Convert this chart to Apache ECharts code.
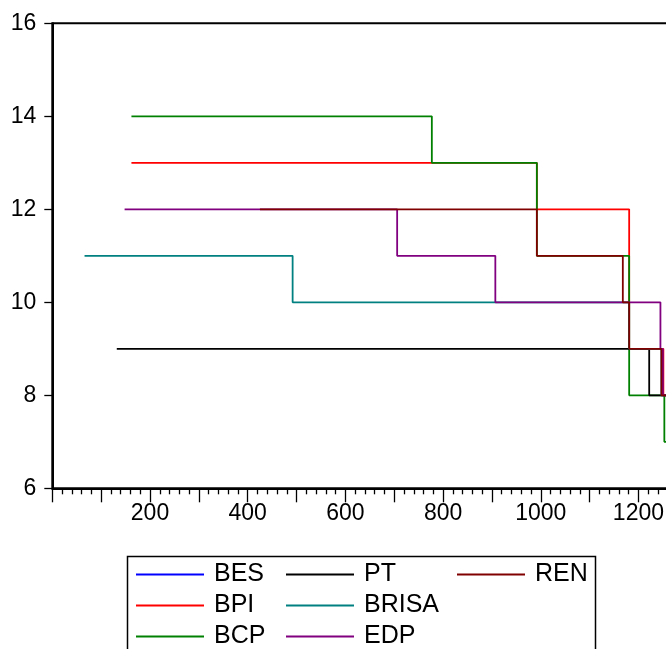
<!DOCTYPE html>
<html>
<head>
<meta charset="utf-8">
<script src="https://cdn.jsdelivr.net/npm/echarts@6/dist/echarts.min.js"></script>
<style>
  html, body { margin: 0; padding: 0; background: #fff; }
  #chart { width: 666px; height: 649px; }
</style>
</head>
<body>
<div id="chart"></div>
<script>
// step points: x where the level starts, y the level
const besX = []
const besY = []
const bpiX = [162, 992, 1181, 1251, 1300]
const bpiY = [13, 12, 9, 8, 8]
const bcpX = [162, 777, 992, 1181, 1253, 1300]
const bcpY = [14, 13, 11, 8, 7, 7]
const ptX = [132, 1222, 1300]
const ptY = [9, 8, 8]
const brisaX = [66, 492, 1181, 1247, 1300]
const brisaY = [11, 10, 9, 8, 8]
const edpX = [148, 706, 907, 1245, 1250, 1300]
const edpY = [12, 11, 10, 9, 8, 8]
const renX = [425, 992, 1168, 1181, 1247, 1300]
const renY = [12, 11, 10, 9, 8, 8]

const names = ['BES', 'BPI', 'BCP', 'PT', 'BRISA', 'EDP', 'REN']
const colors = ['#0000FF', '#FF0000', '#008000', '#000000', '#008080', '#800080', '#800000']
const xs = [besX, bpiX, bcpX, ptX, brisaX, edpX, renX]
const ys = [besY, bpiY, bcpY, ptY, brisaY, edpY, renY]

const xTicks = [200, 400, 600, 800, 1000, 1200]

const chart = echarts.init(document.getElementById('chart'))
const font = 'Liberation Sans, Arial, sans-serif'

// 图例：三列
function legendCol (data, left) {
  return {
    data: data,
    orient: 'vertical',
    left: left,
    top: 559,
    height: 120,
    padding: 0,
    itemGap: 0,
    itemWidth: 68,
    itemHeight: 2,
    icon: 'rect',
    selectedMode: false,
    textStyle: {
      fontFamily: font,
      fontSize: 25,
      color: '#000',
      lineHeight: 31,
      padding: [0, 0, 0, 5]
    }
  }
}

const option = {
  animation: false,
  backgroundColor: '#fff',
  grid: {
    left: 52.3,
    top: 23.3,
    bottom: 160.7,
    width: 635,
    outerBoundsMode: 'none',
    show: true,
    borderColor: '#000',
    borderWidth: 2
  },
  xAxis: {
    type: 'value',
    min: 0,
    max: 1300,
    interval: 100,
    splitLine: { show: false },
    axisLine: { show: true, lineStyle: { color: '#000', width: 2 } },
    axisTick: { show: true, length: 14, lineStyle: { color: '#000', width: 1.3 } },
    minorTick: { show: true, splitNumber: 5, length: 6, lineStyle: { color: '#000', width: 1.3 } },
    axisLabel: {
      margin: 14,
      fontFamily: font,
      fontSize: 23,
      color: '#000',
      formatter: v => xTicks.includes(v) ? String(v) : ''
    }
  },
  yAxis: {
    type: 'value',
    min: 6,
    max: 16,
    interval: 2,
    splitLine: { show: false },
    axisLine: { show: true, lineStyle: { color: '#000', width: 2 } },
    axisTick: { show: true, length: 8, lineStyle: { color: '#000', width: 1.3 } },
    axisLabel: {
      margin: 16,
      fontFamily: font,
      fontSize: 23,
      color: '#000',
      padding: [0, 0, 9, 0]
    }
  },
  legend: [
    legendCol(['BES', 'BPI', 'BCP'], 136),
    legendCol(['PT', 'BRISA', 'EDP'], 286),
    legendCol(['REN'], 457)
  ],
  graphic: [{
    type: 'rect',
    left: 125,
    top: 554,
    shape: { width: 468, height: 140 },
    style: { fill: 'none', stroke: '#000', lineWidth: 1.5 }
  }],
  series: names.map((n, i) => ({
    name: n,
    type: 'line',
    step: 'end',
    symbol: 'none',
    color: colors[i],
    lineStyle: { color: colors[i], width: 1.8 },
    data: xs[i].map((x, j) => [x, ys[i][j]])
  }))
}
chart.setOption(option)
</script>
</body>
</html>
